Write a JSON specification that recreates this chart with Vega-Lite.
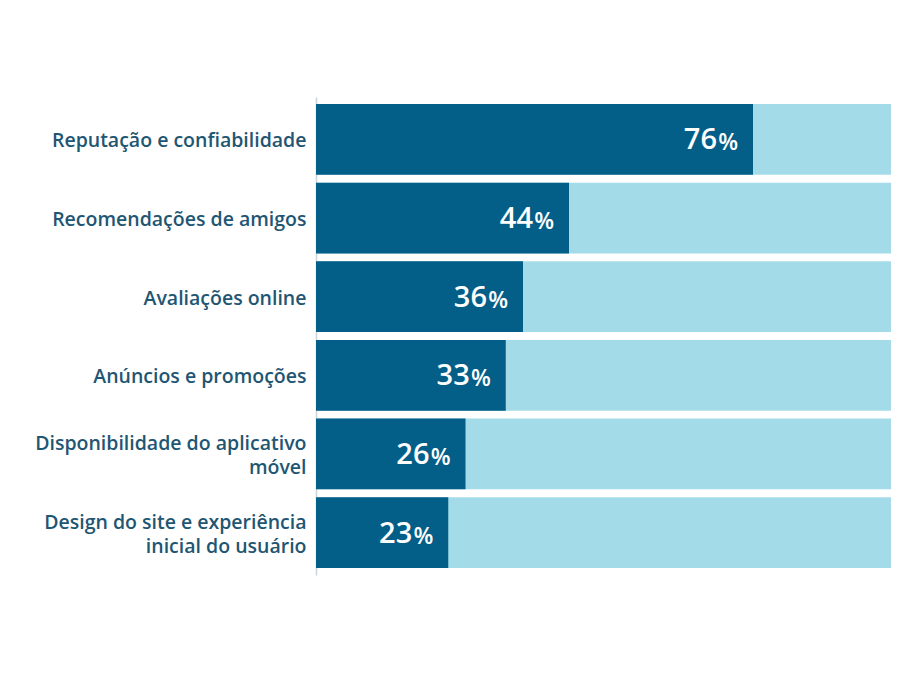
{
  "$schema": "https://vega.github.io/schema/vega-lite/v6.json",
  "width": 575,
  "height": 478,
  "autosize": {"type": "none"},
  "padding": {"left": 316, "top": 97, "right": 31, "bottom": 117},
  "background": "white",
  "config": {"view": {"stroke": null}, "font": "Open Sans"},
  "data": {
    "values": [
      {"factor": "Reputação e confiabilidade", "value": 76, "total": 100},
      {"factor": "Recomendações de amigos", "value": 44, "total": 100},
      {"factor": "Avaliações online", "value": 36, "total": 100},
      {"factor": "Anúncios e promoções", "value": 33, "total": 100},
      {"factor": "Disponibilidade do aplicativo|móvel", "value": 26, "total": 100},
      {"factor": "Design do site e experiência|inicial do usuário", "value": 23, "total": 100}
    ]
  },
  "encoding": {
    "y": {
      "field": "factor",
      "type": "nominal",
      "sort": null,
      "scale": {"paddingInner": 0.1, "paddingOuter": 0.09},
      "axis": {
        "title": null,
        "ticks": false,
        "labelPadding": 10,
        "labelOffset": {"condition": {"test": "indexof(datum.label, '|') >= 0", "value": -10}, "value": 2},
        "labelFont": "Open Sans",
        "labelFontWeight": 600,
        "labelFontSize": 19.5,
        "labelColor": "#1f5673",
        "labelLineHeight": 24.5,
        "labelLimit": 320,
        "labelExpr": "split(datum.label, '|')",
        "domainColor": "#c8d3da",
        "domainWidth": 1.5
      }
    }
  },
  "layer": [
    {
      "mark": {"type": "bar", "color": "#a4dbe8"},
      "encoding": {
        "x": {"field": "total", "type": "quantitative", "scale": {"domain": [0, 100]}, "axis": null}
      }
    },
    {
      "mark": {"type": "bar", "color": "#035e88"},
      "encoding": {
        "x": {"field": "value", "type": "quantitative"}
      }
    },
    {
      "mark": {"type": "text", "align": "right", "baseline": "middle", "dx": -36, "dy": 1, "color": "white", "font": "Open Sans", "fontWeight": 600, "fontSize": 29},
      "encoding": {
        "x": {"field": "value", "type": "quantitative"},
        "text": {"field": "value", "type": "quantitative"}
      }
    },
    {
      "mark": {"type": "text", "align": "right", "baseline": "middle", "dx": -15, "dy": 4, "color": "white", "font": "Open Sans", "fontWeight": 600, "fontSize": 23, "text": "%"},
      "encoding": {
        "x": {"field": "value", "type": "quantitative"}
      }
    }
  ]
}
